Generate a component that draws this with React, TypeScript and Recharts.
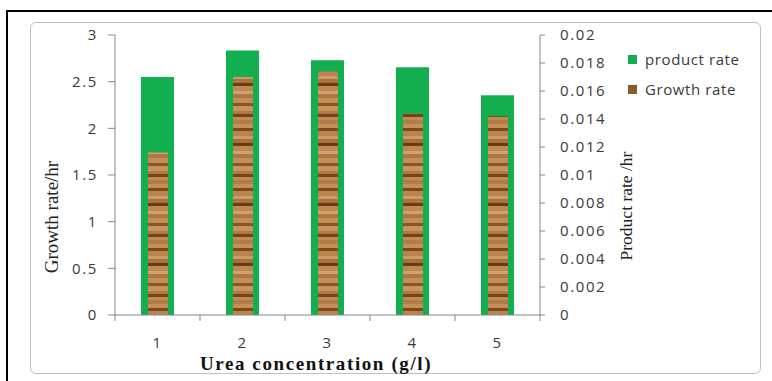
import React from "react";
import { ComposedChart, Bar, XAxis, YAxis, Legend, Label } from "recharts";

const categories = ["1", "2", "3", "4", "5"];
const productRate = [0.017, 0.0189, 0.0182, 0.0177, 0.0157];
const growthRate = [1.74, 2.55, 2.61, 2.16, 2.13];
const leftTicks = [0, 0.5, 1, 1.5, 2, 2.5, 3];
const rightTicks = [0, 0.002, 0.004, 0.006, 0.008, 0.01, 0.012, 0.014, 0.016, 0.018, 0.02];
const xTickPositions = [0.5, 1, 1.5, 2, 2.5, 3, 3.5, 4, 4.5, 5, 5.5];
const legendOrder = ["product rate", "Growth rate"];

const data = categories.map((c, i) => ({
  cat: c,
  x: Number(c),
  product: productRate[i],
  growth: growthRate[i],
}));

const GREEN = "#13ae4f";
const BROWN = "#8b5a2b";
const AXIS = "#868686";
const TXT = "#3a3a3a";
const tickFont = { fontFamily: "'Open Sans', sans-serif", fontSize: 15, fill: TXT, letterSpacing: 1.6 };

const woodStripes = [
  { y: 0, h: 4, c: "#b27c47" },
  { y: 4, h: 4, c: "#c48f58" },
  { y: 8, h: 3, c: "#7e4a1c" },
  { y: 11, h: 5, c: "#b9844e" },
  { y: 16, h: 3, c: "#cc9b66" },
  { y: 19, h: 4, c: "#a8733f" },
  { y: 23, h: 3, c: "#6a3c15" },
  { y: 26, h: 5, c: "#bd8852" },
  { y: 31, h: 3, c: "#d0a270" },
  { y: 34, h: 4, c: "#ad7843" },
  { y: 38, h: 5, c: "#c28d56" },
  { y: 43, h: 3, c: "#8a5524" },
  { y: 46, h: 5, c: "#c79460" },
  { y: 51, h: 3, c: "#b07a45" },
  { y: 54, h: 3, c: "#73431a" },
  { y: 57, h: 3, c: "#bf8a53" },
];

const XTick = (props: any) => {
  const { x, y, payload } = props;
  const v = payload.value as number;
  const isInt = Math.abs(v - Math.round(v)) < 1e-6;
  return (
    <g>
      {!isInt && <line x1={x} x2={x} y1={y} y2={y + 6} stroke={AXIS} strokeWidth={1} />}
      {isInt && (
        <text x={x} y={y + 27} textAnchor="middle" dominantBaseline="central" {...tickFont}>
          {String(Math.round(v))}
        </text>
      )}
    </g>
  );
};

const LegendContent = (props: any) => {
  const payload = [...(props.payload || [])].sort(
    (a: any, b: any) => legendOrder.indexOf(a.value) - legendOrder.indexOf(b.value)
  );
  return (
    <div>
      {payload.map((p: any) => {
        const col = typeof p.color === "string" && p.color.startsWith("url") ? BROWN : p.color;
        return (
          <div key={p.value} style={{ height: 30, display: "flex", alignItems: "center" }}>
            <span style={{ width: 9, height: 9, background: col, display: "inline-block", marginRight: 8 }} />
            <span style={{ fontFamily: "'Open Sans', sans-serif", fontSize: 15, color: TXT, letterSpacing: 0.6 }}>{p.value}</span>
          </div>
        );
      })}
    </div>
  );
};

export default function App() {
  return (
    <div style={{ position: "absolute", left: 0, top: 0, width: 772, height: 381, background: "#fff", overflow: "hidden" }}>
      <div style={{ position: "absolute", left: 6, top: 10, width: 820, height: 420, border: "2px solid #000" }} />
      <div style={{ position: "absolute", left: 30, top: 22, width: 729, height: 350, border: "1.5px solid #b8c4c4", borderRadius: 6 }} />
      <div style={{ position: "absolute", left: 0, top: 0 }}>
        <ComposedChart width={772} height={381} data={data} margin={{ top: 35, right: 172, bottom: 36, left: 55 }}>
          <defs>
            <pattern id="wood" patternUnits="userSpaceOnUse" width={20} height={60}>
              {woodStripes.map((s, i) => (
                <rect key={i} x={0} y={s.y} width={20} height={s.h} fill={s.c} />
              ))}
            </pattern>
          </defs>
          <XAxis
            xAxisId="vis"
            dataKey="x"
            type="number"
            domain={[0.5, 5.5]}
            allowDataOverflow
            ticks={xTickPositions}
            interval={0}
            tickSize={0}
            tickMargin={0}
            tickLine={false}
            axisLine={{ stroke: AXIS }}
            tick={<XTick />}
            height={30}
          >
            <Label
              content={(p: any) => {
                const vb = p.viewBox;
                return (
                  <text
                    x={vb.x + vb.width / 2 - 11.5}
                    y={vb.y + vb.height / 2 + 33}
                    textAnchor="middle"
                    dominantBaseline="central"
                    fontFamily="'Liberation Serif', serif"
                    fontWeight="bold"
                    fontSize={19}
                    letterSpacing={1.6}
                    fill="#111"
                  >
                    Urea concentration (g/l)
                  </text>
                );
              }}
            />
          </XAxis>
          <XAxis xAxisId="g" dataKey="cat" hide height={0} />
          <XAxis xAxisId="b" dataKey="cat" hide height={0} />
          <YAxis
            yAxisId="left"
            orientation="left"
            width={60}
            domain={[0, 3]}
            ticks={leftTicks}
            interval={0}
            tickSize={7}
            tickMargin={10}
            tickLine={{ stroke: AXIS }}
            axisLine={{ stroke: AXIS }}
            tick={tickFont}
          >
            <Label
              content={(p: any) => {
                const vb = p.viewBox;
                const cx = vb.x + vb.width / 2 - 34;
                const cy = vb.y + vb.height / 2 + 42;
                return (
                  <text
                    x={cx}
                    y={cy}
                    transform={`rotate(-90, ${cx}, ${cy})`}
                    textAnchor="middle"
                    dominantBaseline="central"
                    fontFamily="'Liberation Serif', serif"
                    fontSize={19}
                    fill="#222"
                  >
                    Growth rate/hr
                  </text>
                );
              }}
            />
          </YAxis>
          <YAxis
            yAxisId="right"
            orientation="right"
            width={60}
            domain={[0, 0.02]}
            ticks={rightTicks}
            interval={0}
            tickSize={5}
            tickMargin={15}
            tickLine={{ stroke: AXIS }}
            axisLine={{ stroke: AXIS }}
            tick={tickFont}
          >
            <Label
              content={(p: any) => {
                const vb = p.viewBox;
                const cx = vb.x + vb.width / 2 + 56;
                const cy = vb.y + vb.height / 2 + 31;
                return (
                  <text
                    x={cx}
                    y={cy}
                    transform={`rotate(-90, ${cx}, ${cy})`}
                    textAnchor="middle"
                    dominantBaseline="central"
                    fontFamily="'Liberation Serif', serif"
                    fontSize={17.5}
                    fill="#222"
                  >
                    Product rate /hr
                  </text>
                );
              }}
            />
          </YAxis>
          <Legend
            layout="vertical"
            align="center"
            verticalAlign="middle"
            itemSorter={null as any}
            wrapperStyle={{ left: 628, top: 44, width: 135, height: 60 }}
            content={<LegendContent />}
          />
          <Bar
            name="product rate"
            dataKey="product"
            xAxisId="g"
            yAxisId="right"
            fill={GREEN}
            barSize={33}
            isAnimationActive={false}
            legendType="square"
          />
          <Bar
            name="Growth rate"
            dataKey="growth"
            xAxisId="b"
            yAxisId="left"
            fill="url(#wood)"
            barSize={20}
            isAnimationActive={false}
            legendType="square"
          />
        </ComposedChart>
      </div>
    </div>
  );
}
